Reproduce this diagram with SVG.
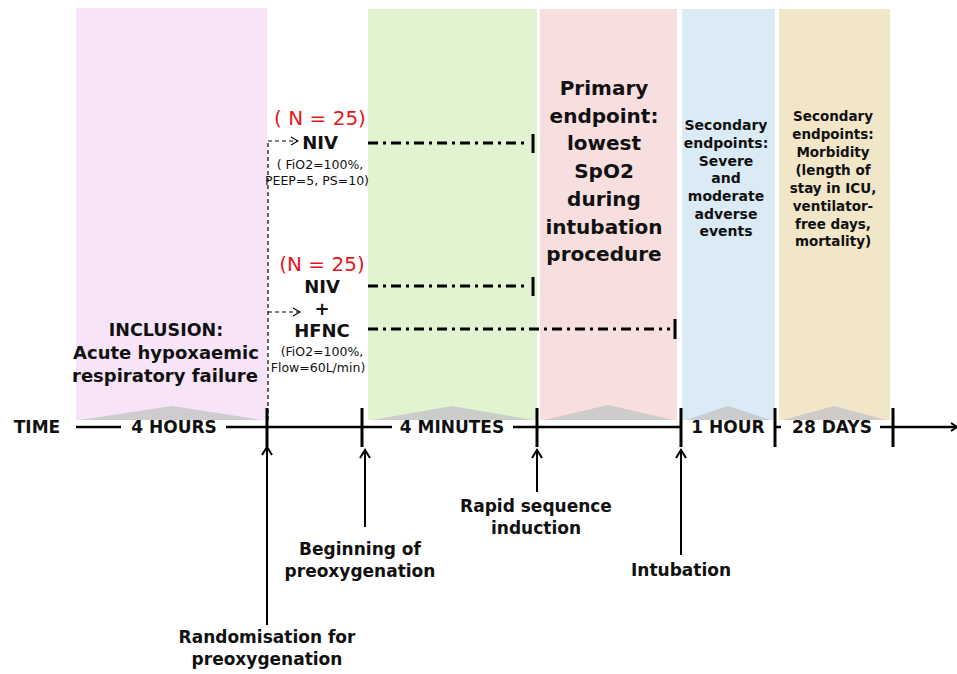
<svg xmlns="http://www.w3.org/2000/svg" width="957" height="674" viewBox="0 0 957 674">
<defs>
<marker id="ah" markerWidth="12" markerHeight="12" refX="10" refY="6" orient="auto" markerUnits="userSpaceOnUse" viewBox="0 0 12 12">
<path d="M2,1 L10,6 L2,11" fill="none" stroke="#000" stroke-width="2"/>
</marker>
<marker id="dh" markerWidth="10" markerHeight="10" refX="9" refY="5" orient="auto" markerUnits="userSpaceOnUse" viewBox="0 0 10 10">
<path d="M2,1 L9,5 L2,9" fill="none" stroke="#000" stroke-width="1.2"/>
</marker>
</defs>
<style>
text{font-family:"DejaVu Sans","Liberation Sans",sans-serif;fill:#111;text-anchor:middle}
.b{font-weight:bold}
.red{fill:#e8141c}
.sm{font-size:12.5px}
.lbl{font-size:17px;font-weight:bold}
.ep{font-size:14px;font-weight:bold}
.ep2{font-size:13.5px;font-weight:bold}
.tri{fill:#c9c9c9;opacity:0.9}
.dd{stroke:#000;stroke-width:3;fill:none;stroke-dasharray:10 5 3 5}
.tk{stroke:#000;stroke-width:3}
.up{stroke:#000;stroke-width:2;marker-end:url(#ah)}
</style>
<rect width="957" height="674" fill="#fff"/>
<g id="columns">
<rect x="76" y="8" width="191" height="412" fill="#f8e4f8"/>
<polygon class="tri" points="80,420 172,406 262,420"/>
<rect x="368" y="9" width="169" height="411" fill="#e1f3d1"/>
<polygon class="tri" points="372,420 452,406 533,420"/>
<rect x="540" y="9" width="137" height="411" fill="#f7dfdf"/>
<polygon class="tri" points="544,420 608,405 673,420"/>
<rect x="682" y="9" width="93" height="411" fill="#daebf6"/>
<polygon class="tri" points="686,420 728,406 771,420"/>
<rect x="779" y="9" width="111" height="411" fill="#f2e6c9"/>
<polygon class="tri" points="783,420 834,406 886,420"/>
</g>
<g id="inclusion">
<text class="b" x="166" y="336" font-size="17.5">INCLUSION:</text>
<text class="b" x="166" y="359" font-size="18">Acute hypoxaemic</text>
<text class="b" x="165" y="382" font-size="18">respiratory failure</text>
</g>
<g id="niv">
<text class="red" x="320" y="125" font-size="20">( N = 25)</text>
<text class="b" x="320" y="149" font-size="18">NIV</text>
<text class="sm" x="320" y="169">( FiO2=100%,</text>
<text class="sm" x="317" y="185">PEEP=5, PS=10)</text>
</g>
<g id="nivhfnc">
<text class="red" x="322" y="271" font-size="20">(N = 25)</text>
<text class="b" x="322" y="293" font-size="18">NIV</text>
<text class="b" x="322" y="315" font-size="18">+</text>
<text class="b" x="322" y="337" font-size="18">HFNC</text>
<text class="sm" x="322" y="356">(FiO2=100%,</text>
<text class="sm" x="318" y="372">Flow=60L/min)</text>
</g>
<g id="primary">
<text class="b" x="604" y="95" font-size="20">Primary</text>
<text class="b" x="604" y="123" font-size="20">endpoint:</text>
<text class="b" x="604" y="150" font-size="20">lowest</text>
<text class="b" x="604" y="178" font-size="20">SpO2</text>
<text class="b" x="604" y="206" font-size="20">during</text>
<text class="b" x="604" y="234" font-size="20">intubation</text>
<text class="b" x="604" y="261" font-size="20">procedure</text>
</g>
<g id="secondary1">
<text class="ep" x="726" y="130">Secondary</text>
<text class="ep" x="726" y="148">endpoints:</text>
<text class="ep" x="726" y="166">Severe</text>
<text class="ep" x="726" y="183">and</text>
<text class="ep" x="726" y="201">moderate</text>
<text class="ep" x="726" y="219">adverse</text>
<text class="ep" x="726" y="236">events</text>
</g>
<g id="secondary2">
<text class="ep2" x="833" y="121">Secondary</text>
<text class="ep2" x="833" y="139">endpoints:</text>
<text class="ep2" x="833" y="157">Morbidity</text>
<text class="ep2" x="833" y="175">(length of</text>
<text class="ep2" x="833" y="193">stay in ICU,</text>
<text class="ep2" x="833" y="211">ventilator-</text>
<text class="ep2" x="833" y="229">free days,</text>
<text class="ep2" x="833" y="246">mortality)</text>
</g>
<g id="timeline">
<text class="lbl" x="37" y="433" font-size="18">TIME</text>
<text class="lbl" x="174" y="433">4 HOURS</text>
<text class="lbl" x="452" y="433">4 MINUTES</text>
<text class="lbl" x="728" y="433">1 HOUR</text>
<text class="lbl" x="832" y="433">28 DAYS</text>
</g>
<g id="connectors">
<line x1="76" y1="427" x2="121" y2="427" stroke="#000" stroke-width="2.5"/>
<line x1="226" y1="427" x2="392" y2="427" stroke="#000" stroke-width="2.5"/>
<line x1="513" y1="427" x2="681" y2="427" stroke="#000" stroke-width="2.5"/>
<line x1="775" y1="427" x2="781" y2="427" stroke="#000" stroke-width="2.5"/>
<line x1="880" y1="427" x2="957" y2="427" stroke="#000" stroke-width="2.5"/>
<path d="M951,423 L957,427 L951,431" fill="none" stroke="#000" stroke-width="2"/>
<line class="tk" x1="267" y1="408" x2="267" y2="447"/>
<line class="tk" x1="362" y1="408" x2="362" y2="447"/>
<line class="tk" x1="537" y1="408" x2="537" y2="447"/>
<line class="tk" x1="681" y1="408" x2="681" y2="447"/>
<line class="tk" x1="775" y1="408" x2="775" y2="447"/>
<line class="tk" x1="893" y1="408" x2="893" y2="447"/>
<line x1="268" y1="143" x2="268" y2="420" stroke="#000" stroke-width="1.2" stroke-dasharray="4 3"/>
<line x1="268" y1="141" x2="298" y2="141" stroke="#000" stroke-width="1.2" stroke-dasharray="4 3" marker-end="url(#dh)"/>
<line x1="268" y1="312" x2="300" y2="312" stroke="#000" stroke-width="1.2" stroke-dasharray="4 3" marker-end="url(#dh)"/>
<line class="dd" x1="368" y1="143" x2="528" y2="143"/>
<line class="tk" x1="533" y1="134" x2="533" y2="153"/>
<line class="dd" x1="368" y1="286" x2="528" y2="286"/>
<line class="tk" x1="533" y1="277" x2="533" y2="296"/>
<line class="dd" x1="368" y1="329" x2="670" y2="329"/>
<line class="tk" x1="675" y1="319" x2="675" y2="339"/>
<line class="up" x1="267" y1="625" x2="267" y2="447"/>
<line class="up" x1="365" y1="527" x2="365" y2="450"/>
<line class="up" x1="537" y1="492" x2="537" y2="450"/>
<line class="up" x1="681" y1="555" x2="681" y2="450"/>
</g>
<g id="randomisation">
<text class="lbl" x="267" y="643">Randomisation for</text>
<text class="lbl" x="267" y="665">preoxygenation</text>
</g>
<g id="beginning">
<text class="lbl" x="360" y="555">Beginning of</text>
<text class="lbl" x="360" y="577">preoxygenation</text>
</g>
<g id="rsi">
<text class="lbl" x="536" y="512">Rapid sequence</text>
<text class="lbl" x="536" y="534">induction</text>
</g>
<g id="intubation">
<text class="lbl" x="681" y="576">Intubation</text>
</g>
</svg>
